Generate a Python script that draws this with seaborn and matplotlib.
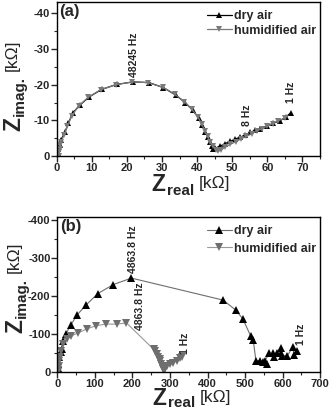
import matplotlib
matplotlib.use("Agg")
import matplotlib.pyplot as plt
import seaborn as sns
from matplotlib.ticker import MultipleLocator

# ---------------- data (panel a) ----------------
dry_a_x = [0.3, 0.5, 0.8, 1.2, 2.4, 3.3, 4.6, 6.6, 9.3, 12.8, 17.1, 21.8, 26.3, 30.4, 33.9,
           36.6, 38.7, 40.5, 41.5, 42.3, 43.0, 43.7, 44.3, 44.6, 45.1, 46.6, 48.0, 49.4, 50.9,
           52.3, 53.7, 55.1, 56.5, 57.9, 59.8, 61.7, 63.6, 65.2, 66.8]
dry_a_y = [-0.8, -2.0, -3.2, -4.5, -6.8, -9.2, -12.1, -14.3, -16.6, -18.7, -20.1, -20.8, -20.6,
           -19.2, -17.1, -15.0, -12.9, -10.6, -8.7, -6.8, -5.4, -4.0, -2.9, -2.1, -2.2, -2.8,
           -3.5, -4.1, -4.8, -5.3, -5.9, -6.6, -7.2, -7.7, -8.4, -9.2, -9.9, -10.9, -12.2]
hum_a_x = [0.6, 0.7, 0.8, 1.0, 1.3, 2.0, 3.0, 4.3, 6.3, 9.0, 12.5, 16.8, 21.5, 26.0, 30.2, 33.7,
           36.4, 38.5, 40.3, 41.3, 42.2, 43.0, 43.8, 44.5, 45.3, 46.0, 46.8, 48.0, 49.5, 51.0,
           52.5, 54.0, 55.5, 57.0, 58.5, 60.0, 61.5, 63.0, 65.0]
hum_a_y = [0.0, -1.0, -2.0, -3.0, -4.0, -5.8, -8.3, -11.3, -14.1, -16.5, -18.6, -20.0, -20.8,
           -20.6, -19.3, -17.3, -15.2, -13.1, -10.9, -9.0, -7.1, -5.5, -4.0, -2.8, -1.8, -1.3,
           -1.7, -2.5, -3.3, -4.0, -4.8, -5.5, -6.2, -7.0, -7.7, -8.4, -9.1, -9.9, -10.6]

# ---------------- data (panel b) ----------------
dry_b_x = [1.5, 2.2, 4.9, 8.4, 11.1, 15.6, 22.7, 35.1, 52.9, 76, 107, 149, 197, 442, 475, 494,
           515, 522, 529, 540, 549, 558, 553, 565, 576, 574, 585, 595, 596, 598, 613, 627, 631, 638]
dry_b_y = [-10, -21, -39, -52, -60, -82, -101, -123, -151, -176, -206, -230, -247, -189, -163,
           -140, -95, -84, -30, -30, -26, -20, -30, -49, -39, -49, -49, -62, -49, -43, -43, -65,
           -46, -54]
hum_b_x = [0.8, 1.5, 2.5, 3.1, 4.9, 6.7, 9.3, 15.6, 26.2, 36, 55.6, 79.6, 104, 129, 158, 184,
           256, 261, 265, 269, 272, 273, 276, 279, 281, 283, 287, 291, 300, 309, 318, 327, 331]
hum_b_y = [0, -4, -10, -17, -30, -40, -54, -73, -86, -95, -103, -114, -122, -126, -126, -129,
           -60, -54, -47, -40, -33, -28, -21, -15, -9, -4, -9, -15, -20, -24, -30, -36, -39]

series_labels = ["dry air", "humidified air"]
ann_a = [("48245 Hz", 21.9, -28.5), ("8 Hz", 54.2, -11.5), ("1 Hz", 66.8, -17.8)]
ann_b = [("4863.8 Hz", 201, -324), ("4863.8 Hz", 220, -172), ("1 Hz", 340, -75), ("1 Hz", 649, -98)]

sns.set_style("ticks")
plt.rcParams["font.family"] = ["Liberation Sans", "DejaVu Sans"]
plt.rcParams["axes.unicode_minus"] = False

fig = plt.figure(figsize=(3.31, 4.11), dpi=100)
axA = fig.add_axes([0.1713, 0.6204, 0.7955, 0.3754])
axB = fig.add_axes([0.1737, 0.0949, 0.7931, 0.3779])

DARK = "black"
GRAY = "#7a7a7a"


def style_axes(ax, xlim, ylim, xmaj, xmin, ymaj, ymin):
    ax.set_xlim(*xlim)
    ax.set_ylim(*ylim)
    ax.xaxis.set_major_locator(MultipleLocator(xmaj))
    ax.xaxis.set_minor_locator(MultipleLocator(xmin))
    ax.yaxis.set_major_locator(MultipleLocator(ymaj))
    ax.yaxis.set_minor_locator(MultipleLocator(ymin))
    ax.tick_params(which="major", direction="out", length=4, width=1, pad=1.0,
                   labelsize=8, top=False, right=False)
    ax.tick_params(which="minor", direction="out", length=2, width=0.8, top=False, right=False)
    for lab in ax.get_xticklabels() + ax.get_yticklabels():
        lab.set_fontweight("bold")
    for s in ax.spines.values():
        s.set_visible(True)
        s.set_linewidth(1.0)
        s.set_color("black")
    ax.set_xlabel("")
    ax.set_ylabel("")


def composite_labels(ax, xfrac, xdy, ysub_frac, ydx, sub_dy=0.8, xsub="real", ysub="imag."):
    t1 = ax.annotate("Z", xy=(xfrac, 0), xycoords="axes fraction", xytext=(0, xdy),
                     textcoords="offset points", ha="left", va="baseline",
                     fontsize=16.5, fontweight="bold", annotation_clip=False)
    t2 = ax.annotate(xsub, xy=(1, 0), xycoords=t1, xytext=(1.2, sub_dy), textcoords="offset points",
                     ha="left", va="baseline", fontsize=11, fontweight="bold")
    ax.annotate("[kΩ]", xy=(1, 0), xycoords=(t2, t1), xytext=(3.5, 6.0), textcoords="offset points",
                ha="left", va="baseline", fontsize=12.5)
    u1 = ax.annotate("Z", xy=(0, ysub_frac), xycoords="axes fraction", xytext=(ydx, 0),
                     textcoords="offset points", ha="left", va="baseline", rotation=90,
                     rotation_mode="anchor", fontsize=16.5, fontweight="bold", annotation_clip=False)
    u2 = ax.annotate(ysub, xy=(1, 1), xycoords=u1, xytext=(-0.8, 1.2), textcoords="offset points",
                     ha="left", va="baseline", rotation=90, rotation_mode="anchor",
                     fontsize=11, fontweight="bold")
    ax.annotate("[kΩ]", xy=(1, 1), xycoords=(u1, u2), xytext=(-6.0, 3.5), textcoords="offset points",
                ha="left", va="baseline", rotation=90, rotation_mode="anchor", fontsize=12.5)


# ---------------- panel (a) ----------------
sns.lineplot(x=dry_a_x, y=dry_a_y, sort=False, ax=axA, color=DARK, lw=0.9, marker="^",
             markersize=5, markeredgewidth=0, label=series_labels[0])
sns.lineplot(x=hum_a_x, y=hum_a_y, sort=False, ax=axA, color=GRAY, lw=0.9, marker="v",
             markersize=5, markeredgewidth=0, label=series_labels[1])
style_axes(axA, (0, 75), (0, -43.3), 10, 5, 10, 5)
for txt, x, y in ann_a:
    axA.text(x, y, txt, rotation=90, ha="center", va="center", fontsize=7.5, fontweight="bold")
axA.text(0.01, 0.985, "(a)", transform=axA.transAxes, ha="left", va="top",
         fontsize=12, fontweight="bold")
axA.legend(loc="upper right", bbox_to_anchor=(1.0, 0.97), frameon=False,
           prop={"size": 9, "weight": "bold"}, handlelength=2.0, handletextpad=0.2,
           labelspacing=0.2, borderaxespad=0.1, borderpad=0.2)
composite_labels(axA, 0.36, -25.5, 0.16, -26.4)

# ---------------- panel (b) ----------------
sns.lineplot(x=dry_b_x, y=dry_b_y, sort=False, ax=axB, color="#6e6e6e", lw=0.8, marker="^",
             markersize=5.5, markeredgewidth=0, markerfacecolor="black", label=series_labels[0])
sns.lineplot(x=hum_b_x, y=hum_b_y, sort=False, ax=axB, color="#9a9a9a", lw=0.8, marker="v",
             markersize=5.5, markeredgewidth=0, markerfacecolor="#6e6e6e", label=series_labels[1])
style_axes(axB, (0, 700), (0, -408.5), 100, 50, 100, 50)
for txt, x, y in ann_b:
    axB.text(x, y, txt, rotation=90, ha="center", va="center", fontsize=7.5, fontweight="bold")
axB.text(0.01, 0.985, "(b)", transform=axB.transAxes, ha="left", va="top",
         fontsize=12, fontweight="bold")
axB.legend(loc="upper right", bbox_to_anchor=(1.0, 0.97), frameon=False,
           prop={"size": 9, "weight": "bold"}, handlelength=2.0, handletextpad=0.2,
           labelspacing=0.45, borderaxespad=0.1, borderpad=0.2)
composite_labels(axB, 0.36, -24.0, 0.25, -25.6, sub_dy=2.2)

fig.savefig("out.png", dpi=100)
